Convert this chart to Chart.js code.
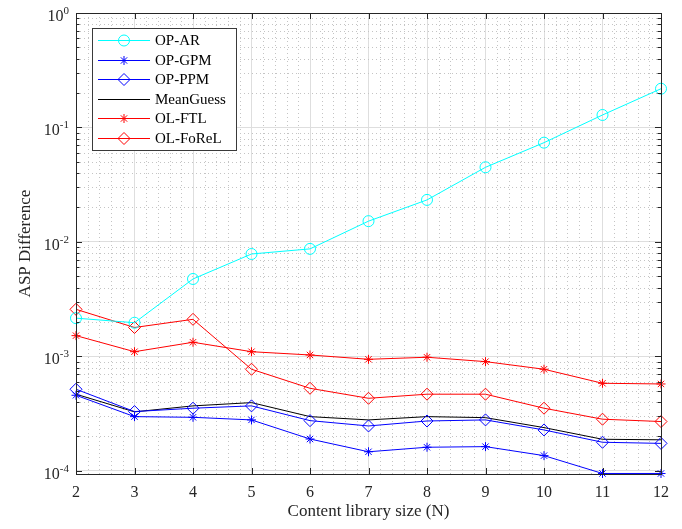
<!DOCTYPE html>
<html>
<head>
<meta charset="utf-8">
<script src="https://cdn.jsdelivr.net/npm/chart.js@4.4.0/dist/chart.umd.min.js"></script>
<style>
  html, body { margin: 0; padding: 0; background: #fff; }
  #wrap { width: 682px; height: 529px; }
</style>
</head>
<body>
<div id="wrap"><canvas id="aspChart"></canvas></div>
<script>
// Values
const contentSizes = [2, 3, 4, 5, 6, 7, 8, 9, 10, 11, 12];
const opAR      = [2.16e-3, 1.97e-3, 4.75e-3, 7.85e-3, 8.7e-3, 1.52e-2, 2.33e-2, 4.49e-2, 7.37e-2, 0.1286, 0.218];
const opGPM     = [4.58e-4, 2.98e-4, 2.94e-4, 2.79e-4, 1.90e-4, 1.47e-4, 1.61e-4, 1.63e-4, 1.36e-4, 9.5e-5, 9.5e-5];
const opPPM     = [5.17e-4, 3.30e-4, 3.53e-4, 3.70e-4, 2.75e-4, 2.47e-4, 2.73e-4, 2.79e-4, 2.28e-4, 1.78e-4, 1.74e-4];
const meanGuess = [4.68e-4, 3.28e-4, 3.70e-4, 3.95e-4, 2.98e-4, 2.79e-4, 2.98e-4, 2.92e-4, 2.39e-4, 1.89e-4, 1.87e-4];
const olFTL     = [1.52e-3, 1.10e-3, 1.33e-3, 1.10e-3, 1.03e-3, 9.44e-4, 9.84e-4, 9.01e-4, 7.73e-4, 5.83e-4, 5.75e-4];
const olFoReL   = [2.58e-3, 1.79e-3, 2.11e-3, 7.73e-4, 5.27e-4, 4.31e-4, 4.68e-4, 4.68e-4, 3.53e-4, 2.83e-4, 2.70e-4];
const yDecades  = [1, 1e-1, 1e-2, 1e-3, 1e-4];
const yExponents = ['0', '-1', '-2', '-3', '-4'];

const FONT = "'Liberation Serif', 'Times New Roman', serif";
const AXIS_COLOR = '#262626';

function series(label, values, color, style, radius) {
    return {
        label: label,
        data: values.map((v, i) => ({ x: contentSizes[i], y: v })),
        borderColor: color,
        backgroundColor: 'rgba(0,0,0,0)',
        borderWidth: 1,
        pointStyle: style,
        pointRadius: radius,
        pointHoverRadius: radius,
        pointBorderColor: color,
        pointBackgroundColor: 'rgba(0,0,0,0)',
        pointBorderWidth: 1,
        tension: 0,
        clip: false
    };
}

const datasets = [
    series('OP-AR', opAR, '#00ffff', 'circle', 5.5),
    series('OP-GPM', opGPM, '#0000ff', 'star', 4.5),
    series('OP-PPM', opPPM, '#0000ff', 'rectRot', 6),
    series('MeanGuess', meanGuess, '#000000', false, 0),
    series('OL-FTL', olFTL, '#ff0000', 'star', 4.5),
    series('OL-FoReL', olFoReL, '#ff0000', 'rectRot', 6)
];

// MATLAB-like axes: minor dotted grid, inner ticks, box, superscript labels, legend
const matlabAxes = {
    id: 'matlabAxes',
    beforeDatasetsDraw(chart) {
        const { ctx, chartArea: a, scales: { x, y } } = chart;
        ctx.save();
        ctx.strokeStyle = '#c4c4c4';
        ctx.lineWidth = 1;
        ctx.setLineDash([1, 3]);
        for (let n = 2; n < 12; n++) {
            for (let k = 1; k < 5; k++) {
                const px = Math.round(x.getPixelForValue(n + k * 0.2)) + 0.5;
                ctx.beginPath(); ctx.moveTo(px, a.top); ctx.lineTo(px, a.bottom); ctx.stroke();
            }
        }
        for (let e = -5; e < 0; e++) {
            for (let k = 2; k < 10; k++) {
                const v = k * Math.pow(10, e);
                if (v < y.min || v > y.max) continue;
                const py = Math.round(y.getPixelForValue(v)) + 0.5;
                ctx.beginPath(); ctx.moveTo(a.left, py); ctx.lineTo(a.right, py); ctx.stroke();
            }
        }
        ctx.restore();
    },
    afterDraw(chart) {
        const { ctx, chartArea: a, scales: { x, y } } = chart;
        ctx.save();
        ctx.strokeStyle = AXIS_COLOR;
        ctx.lineWidth = 1;
        ctx.setLineDash([]);
        // ticks
        ctx.beginPath();
        contentSizes.forEach(n => {
            const px = Math.round(x.getPixelForValue(n)) + 0.5;
            ctx.moveTo(px, a.bottom); ctx.lineTo(px, a.bottom - 6);
            ctx.moveTo(px, a.top); ctx.lineTo(px, a.top + 6);
        });
        for (let e = -5; e <= 0; e++) {
            for (let k = 1; k < 10; k++) {
                const v = k * Math.pow(10, e);
                if (v < y.min || v > y.max) continue;
                const len = k === 1 ? 6 : 3.5;
                const py = Math.round(y.getPixelForValue(v)) + 0.5;
                ctx.moveTo(a.left, py); ctx.lineTo(a.left + len, py);
                ctx.moveTo(a.right, py); ctx.lineTo(a.right - len, py);
            }
        }
        ctx.stroke();
        // box
        ctx.strokeRect(Math.round(a.left) + 0.5, Math.round(a.top) + 0.5,
            Math.round(a.right - a.left), Math.round(a.bottom - a.top));

        // y tick labels with superscript exponent
        ctx.fillStyle = AXIS_COLOR;
        ctx.textBaseline = 'alphabetic';
        ctx.textAlign = 'left';
        yDecades.forEach((v, i) => {
            const py = y.getPixelForValue(v);
            ctx.font = '11px ' + FONT;
            const supW = ctx.measureText(yExponents[i]).width;
            ctx.font = '16px ' + FONT;
            const baseW = ctx.measureText('10').width;
            const right = a.left - 7;
            ctx.fillText('10', right - supW - baseW, py + 8);
            ctx.font = '11px ' + FONT;
            ctx.fillText(yExponents[i], right - supW, py + 1);
        });

        // legend
        const box = { left: 92.5, top: 28.5, right: 236.5, bottom: 150.5 };
        ctx.fillStyle = '#ffffff';
        ctx.fillRect(box.left, box.top, box.right - box.left, box.bottom - box.top);
        ctx.strokeStyle = '#3a3a3a';
        ctx.strokeRect(box.left, box.top, box.right - box.left, box.bottom - box.top);
        ctx.font = '15px ' + FONT;
        ctx.textBaseline = 'middle';
        chart.data.datasets.forEach((ds, i) => {
            const ly = Math.round(40 + i * 19.5) + 0.5;
            ctx.strokeStyle = ds.borderColor;
            ctx.lineWidth = 1;
            ctx.beginPath(); ctx.moveTo(98, ly); ctx.lineTo(150, ly); ctx.stroke();
            if (ds.pointStyle) {
                ctx.fillStyle = 'rgba(0,0,0,0)';
                Chart.helpers.drawPoint(ctx, {
                    pointStyle: ds.pointStyle, radius: ds.pointRadius, rotation: 0, borderWidth: 1
                }, 124, ly);
            }
            ctx.fillStyle = '#000000';
            ctx.fillText(ds.label, 155, ly + 1);
        });
        ctx.restore();
    }
};

const ctx = document.getElementById('aspChart').getContext('2d');
const aspChart = new Chart(ctx, {
    type: 'line',
    data: { datasets: datasets },
    options: {
        responsive: true,
        maintainAspectRatio: false,
        animation: false,
        events: [],
        layout: { padding: { top: 13, right: 21, left: 0, bottom: 0 } },
        plugins: { legend: { display: false }, tooltip: { enabled: false } },
        scales: {
            x: {
                type: 'linear',
                min: 2,
                max: 12,
                ticks: {
                    stepSize: 1,
                    color: AXIS_COLOR,
                    font: { family: FONT, size: 16 },
                    padding: 9
                },
                grid: { color: '#dedede', drawTicks: false },
                border: { display: false },
                title: {
                    display: true,
                    text: 'Content library size (N)',
                    color: AXIS_COLOR,
                    font: { family: FONT, size: 17 },
                    padding: { top: 0, bottom: 7 }
                },
                afterFit(scale) { scale.height = 55; }
            },
            y: {
                type: 'logarithmic',
                min: 9.4e-5,
                max: 1,
                afterBuildTicks(scale) {
                    scale.ticks = yDecades.map(v => ({ value: v, major: true }));
                },
                ticks: { display: false },
                grid: { color: '#dedede', drawTicks: false },
                border: { display: false },
                title: {
                    display: true,
                    text: 'ASP Difference',
                    color: AXIS_COLOR,
                    font: { family: FONT, size: 17 },
                    padding: { top: 15, bottom: 0 }
                },
                afterFit(scale) { scale.width = 76; }
            }
        }
    },
    plugins: [matlabAxes]
});
</script>
</body>
</html>
